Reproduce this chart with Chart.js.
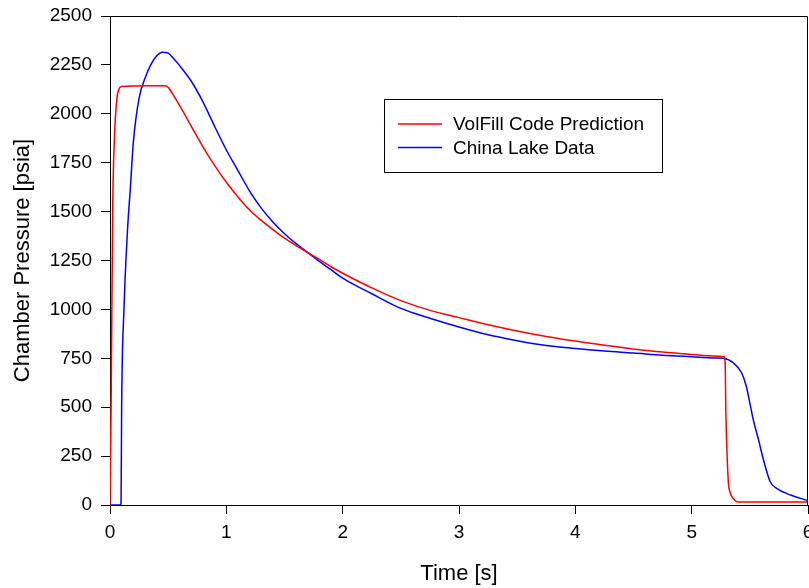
<!DOCTYPE html>
<html>
<head>
<meta charset="utf-8">
<script src="https://cdn.jsdelivr.net/npm/chart.js@4/dist/chart.umd.min.js"></script>
<style>
  html, body { margin: 0; padding: 0; background: #fff; }
  #wrap { width: 809px; height: 588px; }
</style>
</head>
<body>
<div id="wrap"><canvas id="pressureChart" width="809" height="588"></canvas></div>
<script>
// VolFill prediction
const redTime = [0, 0.01, 0.023, 0.04, 0.06, 0.08, 0.1, 0.2, 0.3, 0.4, 0.47, 0.5, 0.55, 0.6, 0.7, 0.8, 0.9, 1.0,
    1.1, 1.2, 1.3, 1.4, 1.5, 1.6, 1.7, 1.8, 1.9, 2.0, 2.25, 2.5, 2.75, 3.0, 3.25, 3.5, 3.75, 4.0, 4.25, 4.5, 4.75,
    5.0, 5.2, 5.28, 5.288, 5.294, 5.305, 5.316, 5.33, 5.345, 5.37, 5.39, 5.5, 6.0];
const redPressure = [0, 540, 1500, 1900, 2080, 2130, 2140, 2142, 2143, 2143, 2143, 2135, 2090, 2040, 1935, 1830, 1735, 1650,
    1575, 1508, 1455, 1408, 1364, 1326, 1290, 1256, 1218, 1185, 1110, 1045, 995, 958, 922, 890, 862, 838, 817, 798, 782,
    770, 762, 758, 725, 470, 250, 112, 65, 43, 25, 17, 15, 15];

// China Lake measurements
const blueTime = [0, 0.09, 0.095, 0.1, 0.12, 0.15, 0.175, 0.2, 0.25, 0.3, 0.35, 0.4, 0.45, 0.5, 0.55, 0.6, 0.7, 0.8,
    0.9, 1.0, 1.1, 1.2, 1.3, 1.4, 1.5, 1.6, 1.7, 1.8, 1.9, 2.0, 2.25, 2.5, 2.75, 3.0, 3.25, 3.5, 3.75, 4.0, 4.25,
    4.5, 4.75, 5.0, 5.2, 5.27, 5.36, 5.43, 5.47, 5.5, 5.53, 5.575, 5.617, 5.675, 5.73, 5.85, 6.0];
const bluePressure = [0, 0, 10, 500, 1000, 1400, 1620, 1850, 2080, 2180, 2250, 2295, 2315, 2310, 2280, 2245, 2165, 2060,
    1935, 1815, 1710, 1605, 1518, 1447, 1387, 1336, 1290, 1245, 1203, 1160, 1080, 1005, 955, 910, 870, 840, 815, 800, 787,
    777, 766, 758, 752, 750, 726, 675, 606, 521, 435, 333, 231, 119, 85, 51, 22];

const xTicks = [0, 1, 2, 3, 4, 5, 6];
const yTicks = [0, 250, 500, 750, 1000, 1250, 1500, 1750, 2000, 2250, 2500];

function toPoints(xs, ys) {
    return xs.map(function (x, i) { return { x: x, y: ys[i] }; });
}

const FONT = 'Arial, "Liberation Sans", sans-serif';

// frame (top/right edges) and boxed legend
const framePlugin = {
    id: 'frame',
    afterDatasetsDraw(chart) {
        const { ctx, chartArea: a } = chart;
        ctx.save();
        ctx.strokeStyle = '#000';
        ctx.lineWidth = 1;
        ctx.beginPath();
        ctx.moveTo(a.left, a.top + 0.5);
        ctx.lineTo(a.right - 0.5, a.top + 0.5);
        ctx.lineTo(a.right - 0.5, a.bottom);
        ctx.stroke();

        // legend box
        ctx.fillStyle = '#fff';
        ctx.fillRect(384.5, 99.5, 278, 73);
        ctx.strokeRect(384.5, 99.5, 278, 73);
        ctx.font = '19px ' + FONT;
        ctx.textBaseline = 'middle';
        ctx.textAlign = 'left';
        chart.data.datasets.forEach(function (ds, i) {
            const y = 124 + i * 23.5;
            ctx.strokeStyle = ds.borderColor;
            ctx.lineWidth = 1.5;
            ctx.beginPath();
            ctx.moveTo(398, y);
            ctx.lineTo(442, y);
            ctx.stroke();
            ctx.fillStyle = '#000';
            ctx.fillText(ds.label, 453, y + 1);
        });
        ctx.restore();
    }
};

const ctx = document.getElementById('pressureChart').getContext('2d');
new Chart(ctx, {
    type: 'scatter',
    data: {
        datasets: [{
            label: 'VolFill Code Prediction',
            data: toPoints(redTime, redPressure),
            borderColor: '#ff0000',
            borderWidth: 1.5,
            showLine: true,
            pointRadius: 0,
            cubicInterpolationMode: 'monotone'
        }, {
            label: 'China Lake Data',
            data: toPoints(blueTime, bluePressure),
            borderColor: '#0000ff',
            borderWidth: 1.5,
            showLine: true,
            pointRadius: 0,
            cubicInterpolationMode: 'monotone'
        }]
    },
    options: {
        responsive: false,
        animation: false,
        events: [],
        layout: { padding: { top: 16, right: 1, left: 0, bottom: 0 } },
        plugins: {
            legend: { display: false },
            tooltip: { enabled: false }
        },
        scales: {
            x: {
                type: 'linear',
                min: 0,
                max: 6,
                afterBuildTicks: function (scale) {
                    scale.ticks = xTicks.map(function (v) { return { value: v }; });
                },
                afterFit: function (scale) {
                    scale.height = 83;
                    scale.paddingRight = 0;
                    scale.paddingLeft = 0;
                },
                ticks: {
                    color: '#000',
                    font: { family: FONT, size: 19 },
                    padding: 7,
                    maxRotation: 0,
                    callback: function (v) { return String(v); }
                },
                grid: { drawOnChartArea: false, drawTicks: true, tickLength: 9, color: '#000' },
                border: { display: true, color: '#000', width: 1 },
                title: {
                    display: true,
                    text: 'Time [s]',
                    color: '#000',
                    font: { family: FONT, size: 22 },
                    padding: { top: 0, bottom: 1 }
                }
            },
            y: {
                type: 'linear',
                min: 0,
                max: 2500,
                afterBuildTicks: function (scale) {
                    scale.ticks = yTicks.map(function (v) { return { value: v }; });
                },
                afterFit: function (scale) {
                    scale.width = 110;
                    scale.paddingTop = 0;
                    scale.paddingBottom = 0;
                },
                ticks: {
                    color: '#000',
                    font: { family: FONT, size: 19 },
                    padding: 9,
                    callback: function (v) { return String(v); }
                },
                grid: { drawOnChartArea: false, drawTicks: true, tickLength: 9, color: '#000' },
                border: { display: true, color: '#000', width: 1 },
                title: {
                    display: true,
                    text: 'Chamber Pressure [psia]',
                    color: '#000',
                    font: { family: FONT, size: 22 },
                    padding: { top: 10, bottom: 0 }
                }
            }
        }
    },
    plugins: [framePlugin]
});
</script>
</body>
</html>
